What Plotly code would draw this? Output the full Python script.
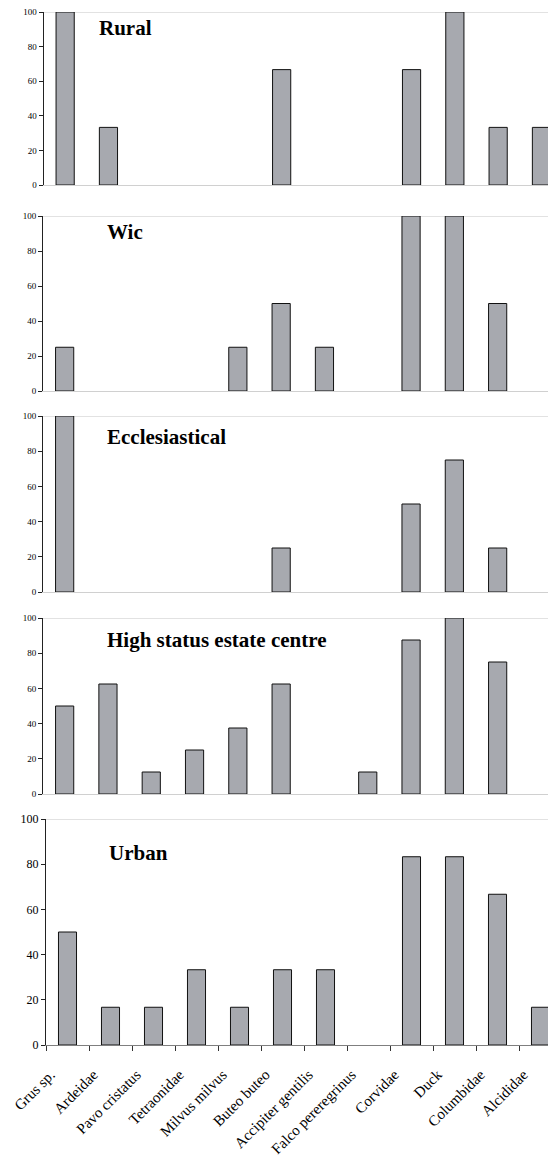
import plotly.graph_objects as go

categories = ["Grus sp.", "Ardeidae", "Pavo cristatus", "Tetraonidae", "Milvus milvus",
              "Buteo buteo", "Accipiter gentilis", "Falco pereregrinus", "Corvidae",
              "Duck", "Columbidae", "Alcididae"]

panel_titles = ["Rural", "Wic", "Ecclesiastical", "High status estate centre", "Urban"]

rural = [100, 33.3, 0, 0, 0, 66.7, 0, 0, 66.7, 100, 33.3, 33.3]
wic = [25, 0, 0, 0, 25, 50, 25, 0, 100, 100, 50, 0]
ecclesiastical = [100, 0, 0, 0, 0, 25, 0, 0, 50, 75, 25, 0]
high_status = [50, 62.5, 12.5, 25, 37.5, 62.5, 0, 12.5, 87.5, 100, 75, 0]
urban = [50, 16.7, 16.7, 33.3, 16.7, 33.3, 33.3, 0, 83.3, 83.3, 66.7, 16.7]

y_ticks = [0, 20, 40, 60, 80, 100]

series = [rural, wic, ecclesiastical, high_status, urban]

W, H = 556, 1156
OFF = 8  # page body margin offset
# screenshot pixel positions (y of 100, y of 0) for each panel
panel_px = [(12, 185), (216, 391), (416, 592), (618, 794), (819, 1045)]
axis_x = [43.5, 43, 43, 43, 46]
cat_w = [43.3, 43.3, 43.3, 43.3, 43.0]
title_px = [(97, 28), (105, 232), (105, 437), (105, 640), (107, 853)]

BAR = "#A7A9AF"
SERIF = "Liberation Serif"

fig = go.Figure()
layout = dict(
    width=W, height=H,
    margin=dict(l=0, r=0, t=0, b=0, autoexpand=False),
    paper_bgcolor="white", plot_bgcolor="white",
    showlegend=False,
    font=dict(family=SERIF, color="black"),
)
shapes = []
annotations = []

for i, (vals, title) in enumerate(zip(series, panel_titles)):
    n = i + 1
    xa = "x" if n == 1 else f"x{n}"
    ya = "y" if n == 1 else f"y{n}"
    # zero-valued categories draw no bar (no outline)
    yv = [v if v else None for v in vals]
    fig.add_trace(go.Bar(
        x=categories, y=yv, xaxis=xa, yaxis=ya,
        marker=dict(color=BAR, line=dict(color="#111", width=1)),
        width=0.42, hoverinfo="x+y",
    ))
    top, bot = panel_px[i]
    dom_y = [1 - (bot - OFF) / H, 1 - (top - OFF) / H]
    left = axis_x[i] - OFF
    x_right = -0.5 + (W - left) / cat_w[i]
    last = (n == 5)
    xkey = "xaxis" if n == 1 else f"xaxis{n}"
    ykey = "yaxis" if n == 1 else f"yaxis{n}"
    layout[xkey] = dict(
        domain=[left / W, 1], anchor=ya, type="category",
        categoryorder="array", categoryarray=categories,
        range=[-0.5, x_right], automargin=False,
        showline=True, linecolor="#7f7f7f" if last else "#d0d0d0", linewidth=1,
        showgrid=False, zeroline=False,
        showticklabels=last,
        ticks="outside" if last else "",
        tickson="boundaries", ticklen=5, tickcolor="#333",
        tickangle=-45, ticklabelshift=-17, ticklabelstandoff=14,
        ticklabeloverflow="allow",
        tickfont=dict(family=SERIF, size=15, color="black"),
    )
    layout[ykey] = dict(
        domain=dom_y, anchor=xa, range=[0, 100], automargin=False,
        tickvals=y_ticks, ticklabeloverflow="allow",
        showline=True, linecolor="#222", linewidth=1,
        ticks="outside", ticklen=4, tickcolor="#222",
        showgrid=False, zeroline=False,
        tickfont=dict(family=SERIF, size=12 if last else 9, color="black"),
    )
    shapes.append(dict(type="line", xref=f"{xa} domain", yref=ya,
                       x0=0, x1=1, y0=100, y1=100,
                       line=dict(color="#d9d9d9", width=1.5), layer="below"))
    tx, ty = title_px[i]
    annotations.append(dict(
        text=f"<b>{title}</b>", xref="paper", yref="paper",
        x=(tx - OFF) / W, y=1 - (ty - OFF) / H, xanchor="left", yanchor="middle",
        showarrow=False,
        font=dict(family=SERIF, size=21, color="black"),
    ))

layout["shapes"] = shapes
layout["annotations"] = annotations
fig.update_layout(**layout)
fig.write_html("out.html")
